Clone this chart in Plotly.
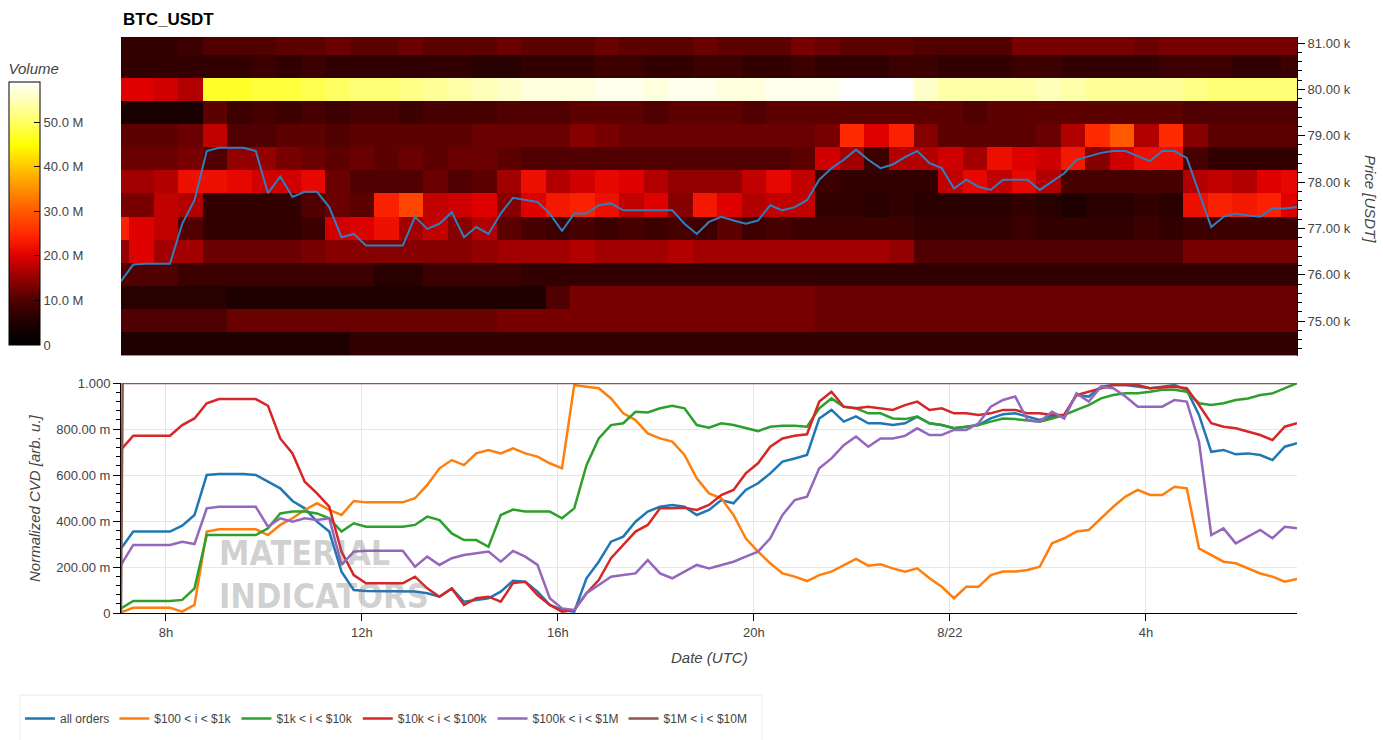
import pandas as pd
import plotly.graph_objects as go
from plotly.subplots import make_subplots

# heatmap: one column every 30 min (bins centred on the half hour), one row per 500 USDT level
heat_times = pd.date_range("2024-08-21 07:00", periods=49, freq="30min")
price_levels = [74500, 75000, 75500, 76000, 76500, 77000, 77500,
                78000, 78500, 79000, 79500, 80000, 80500, 81000]

# resting volume per level, in millions
vol_74500 = [5, 5, 5, 5, 5, 5, 5, 5, 5, 5,
             7, 7, 7, 7, 7, 7, 7, 7, 7, 7,
             7, 7, 7, 7, 7, 7, 7, 7, 7, 7,
             7, 7, 7, 7, 7, 7, 7, 7, 7, 7,
             7, 7, 7, 7, 7, 7, 7, 7, 7]
vol_75000 = [10, 10, 10, 10, 10, 12, 12, 12, 12, 12,
             12, 12, 12, 12, 12, 12, 13, 13, 13, 13,
             13, 13, 13, 13, 13, 13, 13, 13, 13, 12,
             12, 12, 12, 12, 12, 12, 12, 12, 12, 12,
             12, 12, 12, 12, 12, 12, 12, 12, 12]
vol_75500 = [6, 6, 6, 6, 6, 5, 5, 5, 5, 5,
             5, 5, 5, 5, 5, 5, 5, 5, 10, 13,
             13, 13, 13, 13, 13, 13, 13, 13, 13, 12,
             12, 12, 12, 12, 12, 12, 12, 12, 12, 12,
             12, 12, 12, 12, 12, 12, 12, 12, 12]
vol_76000 = [10, 10, 10, 8, 8, 8, 8, 8, 8, 8,
             8, 6, 6, 8, 8, 8, 8, 7, 7, 7,
             7, 7, 7, 7, 7, 7, 7, 7, 7, 7,
             7, 7, 7, 7, 7, 7, 7, 7, 7, 7,
             7, 7, 7, 7, 7, 7, 7, 7, 7]
vol_76500 = [15, 20, 16, 16, 12, 12, 12, 12, 13, 14,
             14, 14, 14, 14, 14, 15, 16, 16, 16, 17,
             16, 16, 16, 17, 16, 16, 16, 16, 16, 16,
             16, 16, 15, 10, 10, 10, 10, 10, 10, 10,
             10, 10, 10, 10, 13, 13, 13, 13, 13]
vol_77000 = [24, 20, 18, 10, 7, 7, 7, 7, 8, 19,
             20, 22, 16, 18, 14, 17, 11, 9, 8, 9,
             8, 9, 8, 9, 8, 11, 8, 9, 8, 8,
             8, 8, 8, 7, 7, 7, 7, 8, 7, 7,
             7, 7, 8, 7, 8, 8, 8, 8, 8]
vol_77500 = [13, 13, 18, 17, 7, 7, 7, 7, 10, 12,
             11, 24, 28, 18, 19, 20, 14, 20, 23, 24,
             22, 18, 20, 14, 23, 20, 17, 18, 18, 7,
             7, 6, 7, 6, 6, 6, 6, 7, 6, 5,
             6, 6, 7, 6, 22, 24, 23, 24, 20]
vol_78000 = [16, 16, 17, 22, 22, 21, 19, 19, 21, 12,
             10, 10, 10, 12, 10, 11, 16, 22, 17, 19,
             21, 20, 17, 15, 15, 15, 18, 21, 18, 8,
             7, 7, 7, 7, 18, 21, 18, 21, 17, 9,
             9, 9, 9, 9, 17, 18, 17, 20, 21]
vol_78500 = [12, 12, 12, 13, 10, 15, 15, 13, 12, 11,
             12, 11, 12, 11, 12, 12, 11, 10, 10, 10,
             10, 10, 10, 10, 10, 10, 10, 10, 11, 19,
             16, 8, 17, 17, 19, 16, 22, 20, 19, 23,
             14, 19, 22, 22, 9, 7, 7, 7, 7]
vol_79000 = [11, 11, 11, 12, 18, 10, 10, 11, 11, 10,
             11, 11, 11, 11, 11, 12, 12, 12, 12, 14,
             13, 12, 12, 12, 12, 12, 12, 12, 12, 13,
             25, 20, 24, 14, 11, 11, 11, 11, 12, 17,
             25, 30, 17, 25, 14, 11, 11, 11, 11]
vol_79500 = [4, 4, 4, 4, 11, 8, 9, 8, 9, 8,
             9, 9, 8, 9, 9, 9, 10, 10, 10, 11,
             11, 11, 10, 11, 11, 11, 10, 11, 11, 11,
             11, 11, 11, 11, 11, 10, 11, 11, 11, 11,
             11, 11, 11, 11, 10, 10, 10, 10, 10]
vol_80000 = [20, 20, 19, 17, 47, 47, 48, 48, 49, 50,
             51, 51, 52, 53, 54, 55, 56, 57, 57, 57,
             58, 58, 57, 58, 58, 57, 57, 58, 58, 58,
             59, 59, 59, 56, 54, 54, 54, 54, 55, 54,
             53, 53, 53, 53, 52, 51, 51, 51, 51]
vol_80500 = [7, 7, 7, 7, 7, 7, 8, 7, 8, 7,
             7, 7, 7, 7, 7, 6, 6, 7, 7, 7,
             8, 8, 7, 7, 8, 8, 7, 7, 8, 7,
             7, 7, 8, 8, 7, 7, 7, 8, 8, 7,
             7, 7, 7, 8, 8, 8, 7, 7, 8]
vol_81000 = [7, 7, 7, 8, 10, 10, 10, 11, 11, 12,
             11, 11, 12, 11, 11, 11, 12, 11, 11, 11,
             12, 11, 11, 11, 12, 11, 11, 11, 13, 12,
             11, 11, 11, 10, 10, 10, 10, 13, 13, 13,
             13, 13, 12, 13, 13, 13, 13, 13, 13]

# price + CVD, sampled every 15 min
times = pd.date_range("2024-08-21 07:05", periods=97, freq="15min")

price = [75860, 76220, 76240, 76240, 76240, 77100, 77610, 78670, 78740, 78740,
         78740, 78670, 77760, 78120, 77680, 77790, 77790, 77460, 76810, 76880,
         76630, 76630, 76630, 76630, 77250, 76990, 77100, 77350, 76810, 77030,
         76880, 77320, 77660, 77610, 77570, 77320, 76950, 77320, 77320, 77500,
         77540, 77390, 77390, 77390, 77390, 77390, 77100, 76880, 77140, 77250,
         77170, 77100, 77170, 77500, 77390, 77460, 77610, 78050, 78300, 78480,
         78700, 78480, 78300, 78380, 78540, 78670, 78410, 78300, 77860, 78050,
         77900, 77830, 78050, 78050, 78050, 77830, 78010, 78190, 78480, 78560,
         78630, 78670, 78670, 78560, 78450, 78670, 78670, 78520, 77760, 77030,
         77250, 77320, 77280, 77250, 77430, 77430, 77460]

cvd_all = [0.28, 0.354, 0.354, 0.354, 0.354, 0.38, 0.426, 0.60, 0.604, 0.604,
           0.604, 0.60, 0.571, 0.542, 0.487, 0.455, 0.397, 0.354, 0.18, 0.10,
           0.096, 0.096, 0.096, 0.096, 0.093, 0.086, 0.071, 0.107, 0.049, 0.057,
           0.064, 0.093, 0.14, 0.136, 0.093, 0.035, 0.013, 0.006, 0.151, 0.223,
           0.31, 0.332, 0.397, 0.441, 0.462, 0.47, 0.462, 0.426, 0.448, 0.491,
           0.477, 0.535, 0.564, 0.607, 0.658, 0.672, 0.687, 0.846, 0.883, 0.832,
           0.855, 0.825, 0.825, 0.817, 0.825, 0.854, 0.825, 0.817, 0.803, 0.81,
           0.817, 0.846, 0.864, 0.868, 0.855, 0.839, 0.855, 0.861, 0.948, 0.941,
           0.984, 0.991, 0.991, 0.984, 0.977, 0.984, 0.991, 0.97, 0.861, 0.701,
           0.709, 0.69, 0.694, 0.687, 0.665, 0.723, 0.738]
cvd_100_1k = [0.003, 0.023, 0.023, 0.023, 0.023, 0.006, 0.035, 0.354, 0.364, 0.364,
              0.364, 0.364, 0.339, 0.383, 0.412, 0.448, 0.477, 0.448, 0.426, 0.487,
              0.481, 0.481, 0.481, 0.481, 0.499, 0.557, 0.629, 0.665, 0.643, 0.694,
              0.709, 0.694, 0.716, 0.694, 0.68, 0.651, 0.629, 0.991, 0.984, 0.977,
              0.933, 0.868, 0.839, 0.781, 0.759, 0.745, 0.687, 0.586, 0.52, 0.499,
              0.426, 0.325, 0.267, 0.216, 0.172, 0.158, 0.139, 0.165, 0.18, 0.209,
              0.235, 0.206, 0.212, 0.194, 0.18, 0.194, 0.151, 0.114, 0.064, 0.114,
              0.114, 0.165, 0.18, 0.18, 0.187, 0.201, 0.303, 0.325, 0.354, 0.361,
              0.412, 0.462, 0.506, 0.535, 0.513, 0.513, 0.549, 0.542, 0.281, 0.252,
              0.223, 0.216, 0.194, 0.172, 0.158, 0.136, 0.148]
cvd_1k_10k = [0.02, 0.052, 0.052, 0.052, 0.052, 0.057, 0.107, 0.339, 0.339, 0.339,
              0.339, 0.339, 0.368, 0.433, 0.441, 0.441, 0.433, 0.412, 0.354, 0.39,
              0.375, 0.375, 0.375, 0.375, 0.383, 0.419, 0.404, 0.346, 0.317, 0.317,
              0.288, 0.426, 0.45, 0.441, 0.441, 0.441, 0.412, 0.455, 0.643, 0.759,
              0.817, 0.825, 0.875, 0.872, 0.89, 0.901, 0.89, 0.817, 0.806, 0.825,
              0.817, 0.803, 0.791, 0.81, 0.814, 0.814, 0.81, 0.89, 0.933, 0.897,
              0.89, 0.868, 0.868, 0.846, 0.843, 0.854, 0.825, 0.817, 0.803, 0.81,
              0.817, 0.832, 0.846, 0.843, 0.839, 0.832, 0.846, 0.861, 0.883, 0.904,
              0.933, 0.948, 0.955, 0.955, 0.962, 0.971, 0.971, 0.962, 0.912, 0.904,
              0.912, 0.926, 0.933, 0.948, 0.955, 0.977, 0.999]
cvd_10k_100k = [0.71, 0.771, 0.771, 0.771, 0.771, 0.817, 0.846, 0.912, 0.93, 0.93,
                0.93, 0.93, 0.901, 0.759, 0.694, 0.571, 0.52, 0.462, 0.267, 0.165,
                0.129, 0.129, 0.129, 0.129, 0.158, 0.107, 0.071, 0.107, 0.035, 0.064,
                0.071, 0.049, 0.13, 0.136, 0.078, 0.035, 0.006, 0.013, 0.086, 0.143,
                0.238, 0.296, 0.354, 0.383, 0.455, 0.455, 0.458, 0.448, 0.47, 0.513,
                0.535, 0.607, 0.651, 0.723, 0.759, 0.771, 0.777, 0.919, 0.962, 0.897,
                0.89, 0.897, 0.89, 0.883, 0.904, 0.919, 0.883, 0.89, 0.868, 0.868,
                0.861, 0.868, 0.883, 0.883, 0.868, 0.868, 0.861, 0.861, 0.948, 0.962,
                0.977, 0.991, 0.991, 0.991, 0.977, 0.98, 0.984, 0.977, 0.904, 0.825,
                0.81, 0.803, 0.788, 0.774, 0.752, 0.81, 0.825]
cvd_100k_1m = [0.209, 0.296, 0.296, 0.296, 0.296, 0.31, 0.30, 0.455, 0.462, 0.462,
               0.462, 0.462, 0.375, 0.412, 0.397, 0.412, 0.404, 0.412, 0.209, 0.267,
               0.271, 0.271, 0.271, 0.271, 0.201, 0.245, 0.209, 0.238, 0.252, 0.259,
               0.267, 0.223, 0.27, 0.245, 0.209, 0.064, 0.02, 0.013, 0.086, 0.122,
               0.158, 0.165, 0.172, 0.23, 0.172, 0.151, 0.18, 0.209, 0.194, 0.209,
               0.223, 0.245, 0.267, 0.325, 0.426, 0.491, 0.506, 0.629, 0.672, 0.73,
               0.767, 0.723, 0.759, 0.759, 0.77, 0.803, 0.774, 0.774, 0.796, 0.796,
               0.825, 0.897, 0.926, 0.941, 0.839, 0.832, 0.875, 0.846, 0.955, 0.919,
               0.984, 0.977, 0.941, 0.897, 0.897, 0.897, 0.926, 0.919, 0.745, 0.339,
               0.368, 0.303, 0.332, 0.361, 0.325, 0.375, 0.368]
# the $1M-$10M bucket jumps to 1 right at the start and stays there
big_times = ["2024-08-21 07:05", "2024-08-21 07:07", "2024-08-22 07:05"]
cvd_1m_10m = [0.0, 1.0, 1.0]

series = [
    ("all orders", times, cvd_all, "#1f77b4"),
    ("$100 < i < $1k", times, cvd_100_1k, "#ff7f0e"),
    ("$1k < i < $10k", times, cvd_1k_10k, "#2ca02c"),
    ("$10k < i < $100k", times, cvd_10k_100k, "#d62728"),
    ("$100k < i < $1M", times, cvd_100k_1m, "#9467bd"),
    ("$1M < i < $10M", big_times, cvd_1m_10m, "#8c564b"),
]

FONT = "Liberation Sans, Arial, sans-serif"
GREY = "#444444"

fire = [
    [0.0, "#000000"], [0.085, "#1e0000"], [0.17, "#500000"], [0.255, "#940000"],
    [0.34, "#e00000"], [0.42, "#ff2800"], [0.51, "#ff5a00"], [0.6, "#ff9400"],
    [0.68, "#ffc800"], [0.76, "#ffff00"], [0.85, "#ffff66"], [0.93, "#ffffb8"],
    [1.0, "#ffffff"],
]

fig = make_subplots(rows=2, cols=1, shared_xaxes=True)

fig.add_trace(go.Heatmap(
    x=heat_times, y=price_levels,
    z=[vol_74500, vol_75000, vol_75500, vol_76000, vol_76500, vol_77000, vol_77500,
       vol_78000, vol_78500, vol_79000, vol_79500, vol_80000, vol_80500, vol_81000],
    colorscale=fire, zmin=0, zmax=59,
    colorbar=dict(
        x=-0.0952, xanchor="left", xpad=0, ypad=0,
        y=0.7127, yanchor="middle", len=285, lenmode="pixels",
        thickness=31, outlinewidth=1, outlinecolor="black",
        ticks="inside", ticklen=6, tickcolor="black",
        tickvals=[0, 10, 20, 30, 40, 50],
        ticktext=["0", "10.0 M", "20.0 M", "30.0 M", "40.0 M", "50.0 M"],
        tickfont=dict(size=13, color=GREY, family=FONT),
        title=dict(text="Volume", side="top",
                   font=dict(size=15, color=GREY, family=FONT, style="italic")),
    ),
    hoverinfo="skip",
), row=1, col=1)

fig.add_trace(go.Scatter(
    x=times, y=price, mode="lines", line=dict(color="#2f7fbf", width=2),
    showlegend=False, hoverinfo="skip",
), row=1, col=1)

for name, tx, vals, color in series:
    fig.add_trace(go.Scatter(
        x=tx, y=vals, mode="lines", name=name,
        line=dict(color=color, width=2.5),
    ), row=2, col=1)

x_range = ["2024-08-21 07:05", "2024-08-22 07:05"]

fig.update_layout(
    width=1383, height=740,
    margin=dict(l=121, r=86, t=37, b=127, autoexpand=False),
    paper_bgcolor="white", plot_bgcolor="white",
    font=dict(family=FONT, color=GREY, size=13),
    legend=dict(
        orientation="h", x=-0.0859, xanchor="left", y=-0.158, yanchor="top",
        borderwidth=0, bgcolor="rgba(0,0,0,0)",
        font=dict(size=12, color=GREY, family=FONT),
        itemwidth=30,
    ),
    xaxis=dict(range=x_range, showticklabels=False, ticks="", showgrid=False,
               zeroline=False, showline=False),
    yaxis=dict(domain=[0.446, 1.0], side="right", range=[74245, 81130],
               tickvals=[75000, 76000, 77000, 78000, 79000, 80000, 81000],
               ticktext=["75.00 k", "76.00 k", "77.00 k", "78.00 k", "79.00 k",
                         "80.00 k", "81.00 k"],
               ticks="outside", ticklen=7, tickcolor="black",
               minor=dict(dtick=200, ticks="outside", ticklen=4, tickcolor="black"),
               showline=True, linecolor="black", showgrid=False, zeroline=False),
    xaxis2=dict(range=x_range,
                tickvals=["2024-08-21 08:00", "2024-08-21 12:00", "2024-08-21 16:00",
                          "2024-08-21 20:00", "2024-08-22 00:00", "2024-08-22 04:00"],
                ticktext=["8h", "12h", "16h", "20h", "8/22", "4h"],
                ticks="outside", ticklen=7, tickcolor="black",
                showline=True, linecolor="black", showgrid=True, gridcolor="#e6e6e6",
                zeroline=False),
    yaxis2=dict(domain=[0.0, 0.3993], range=[0, 1.0],
                tickvals=[0, 0.2, 0.4, 0.6, 0.8, 1.0],
                ticktext=["0", "200.00 m", "400.00 m", "600.00 m", "800.00 m", "1.000"],
                ticks="outside", ticklen=7, tickcolor="black",
                minor=dict(dtick=0.04, ticks="outside", ticklen=4, tickcolor="black"),
                showline=True, linecolor="black", showgrid=True, gridcolor="#e6e6e6",
                zeroline=False),
)

# legend frame
fig.add_shape(type="rect", xref="paper", yref="paper", x0=-0.0859, x1=0.545,
              y0=-0.1424, y1=-0.26, line=dict(color="#ebebeb", width=1),
              fillcolor="rgba(0,0,0,0)")

fig.add_annotation(text="<b>BTC_USDT</b>", xref="paper", yref="paper", x=0, y=1,
                   xanchor="left", yanchor="bottom", yshift=6, showarrow=False,
                   font=dict(size=17, color="black", family=FONT))
fig.add_annotation(text="Price [USDT]", xref="paper", yref="paper", x=1.062, y=0.719,
                   xanchor="center", yanchor="middle", textangle=90, showarrow=False,
                   font=dict(size=15, color=GREY, family=FONT, style="italic"))
fig.add_annotation(text="Normalized CVD [arb. u.]", xref="paper", yref="paper",
                   x=-0.0731, y=0.1997, xanchor="center", yanchor="middle",
                   textangle=-90, showarrow=False,
                   font=dict(size=15, color=GREY, family=FONT, style="italic"))
fig.add_annotation(text="Date (UTC)", xref="paper", yref="paper", x=0.5, y=-0.0764,
                   xanchor="center", yanchor="middle", showarrow=False,
                   font=dict(size=15, color=GREY, family=FONT, style="italic"))

# watermark
for word, wy in [("MATERIAL", 0.1042), ("INDICATORS", 0.0295)]:
    fig.add_annotation(text="<b>" + word + "</b>", xref="paper", yref="paper",
                       x=0.0816, y=wy, xanchor="left", yanchor="middle", showarrow=False,
                       font=dict(size=34, color="rgba(110,110,110,0.33)",
                                 family="DejaVu Sans Condensed, sans-serif"))

fig.write_html("out.html", config={"displayModeBar": False},
               post_script="document.body.style.margin='0';")
